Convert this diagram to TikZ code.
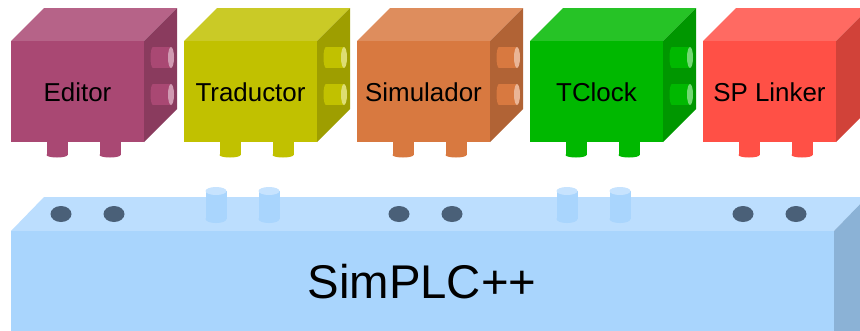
\documentclass[tikz,border=0pt]{standalone}
\usepackage{fontspec}
\setmainfont{Liberation Sans}
\usepackage{xcolor}
\usepackage{tikz}
\definecolor{editorc}{RGB}{169, 72, 115}
\definecolor{tradc}{RGB}{193, 193, 0}
\definecolor{simc}{RGB}{216, 121, 64}
\definecolor{clockc}{RGB}{0, 184, 0}
\definecolor{linkc}{RGB}{255, 80, 70}
\definecolor{corefront}{RGB}{169, 213, 253}
\definecolor{coretop}{RGB}{188, 222, 254}
\definecolor{coreside}{RGB}{139, 178, 214}
\definecolor{corehole}{RGB}{74, 96, 120}
\definecolor{corecap}{RGB}{199, 227, 254}

\begin{document}
\begin{tikzpicture}[x=1bp, y=-1bp]
    \useasboundingbox (0,0) rectangle (860,330);
    \clip (0,0) rectangle (860,330);
    % modules (boxes with pegs)
    \foreach \i/\txt/\c in {0/Editor/editorc, 1/Traductor/tradc, 2/Simulador/simc,
                            3/TClock/clockc, 4/SP Linker/linkc} {
      \pgfmathsetmacro{\xl}{11+173*\i}
      \pgfmathsetmacro{\xr}{\xl+133}
      % bottom pegs
      \foreach \p in {46,99} {
        \fill[\c] (\xl+\p-10.5,138) rectangle (\xl+\p+10.5,155);
        \fill[\c] (\xl+\p,155) ellipse [x radius=10.5, y radius=2.5];
      }
      % top and side faces
      \fill[\c!85!white] (\xl,41) -- ++(33,-33) -- ++(133,0) -- (\xr,41) -- cycle;
      \fill[\c!82!black] (\xr,41) -- ++(33,-33) -- ++(0,101) -- (\xr,142) -- cycle;
      % front face
      \fill[\c] (\xl,41) rectangle (\xr,142);
      % side pegs (none on the last one)
      \ifnum\i<4
      \foreach \y in {57.5,94.5} {
        \fill[\c] (\xr+9,\y-10.5) rectangle (\xr+27,\y+10.5);
        \fill[\c] (\xr+9,\y) ellipse [x radius=2.5, y radius=10.5];
        \fill[\c!55!white] (\xr+27,\y) ellipse [x radius=3, y radius=10.5];
      }
      \fi
      \node[font=\fontsize{26}{30}\selectfont] (mod\i) at (\xl+66.5,92) {\txt};
    }
    % base block
    \fill[coretop] (11,231) -- (44,197) -- (867,197) -- (834,231) -- cycle;
    \fill[coreside] (834,231) -- (867,197) -- (867,340) -- (834,340) -- cycle;
    \fill[corefront] (11,231) rectangle (834,340);
    % sockets
    \foreach \x in {61,114,399,452,743,796}
      \fill[corehole] (\x,214) ellipse [x radius=10.5, y radius=8];
    % studs
    \foreach \x in {216,269,567,620} {
      \fill[corefront] (\x-10.5,191) rectangle (\x+10.5,219);
      \fill[corefront] (\x,219) ellipse [x radius=10.5, y radius=4];
      \fill[corecap] (\x,191) ellipse [x radius=10.5, y radius=4];
    }
    \node[font=\fontsize{47.5}{54}\selectfont] (core) at (422,282) {SimPLC++};
\end{tikzpicture}
\end{document}
